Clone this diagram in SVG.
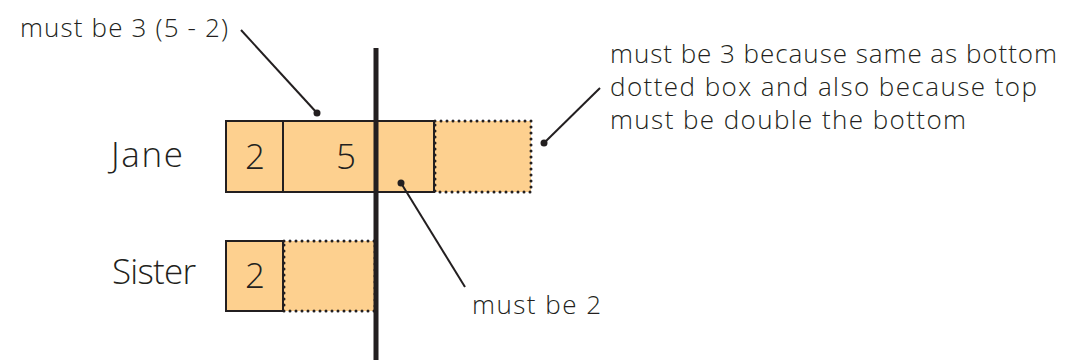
<svg xmlns="http://www.w3.org/2000/svg" width="1075" height="362" viewBox="0 0 1075 362">
<style>
.t{font-family:"Open Sans","Noto Sans","Liberation Sans",sans-serif;fill:#231f20;font-weight:300}
.lbl{font-size:26px}
.name{font-size:35px}
.num{font-size:35px;text-anchor:middle}
.box{fill:#fdd08f;stroke:#231f20;stroke-width:2}
.dot{fill:#fdd08f;stroke:#231f20;stroke-width:3;stroke-dasharray:0 6;stroke-linecap:round}
.lead{stroke:#231f20;stroke-width:2;fill:none}
</style>
<rect width="1075" height="362" fill="#fff"/>
<g id="jane">
<text class="t name" x="111" y="167" textLength="72" lengthAdjust="spacing">Jane</text>
<rect class="box" x="226" y="121" width="57" height="71"/>
<text class="t num" x="255" y="169">2</text>
<rect class="box" x="283" y="121" width="93" height="71"/>
<text class="t num" x="346" y="169">5</text>
<rect class="box" x="376" y="121" width="58" height="71"/>
<rect class="dot" x="435" y="121" width="96" height="71"/>
</g>
<g id="sister">
<text class="t name" x="112" y="284" textLength="84" lengthAdjust="spacing">Sister</text>
<rect class="box" x="226" y="241" width="57" height="70"/>
<text class="t num" x="255" y="288">2</text>
<rect class="dot" x="284" y="241" width="91" height="70"/>
</g>
<g id="divider">
<line x1="376" y1="48" x2="376" y2="360" stroke="#231f20" stroke-width="5"/>
</g>
<g id="connectors">
<line class="lead" x1="241" y1="30" x2="317" y2="113"/>
<circle cx="317" cy="113" r="3.5" fill="#231f20"/>
<line class="lead" x1="600" y1="88" x2="544" y2="143"/>
<circle cx="544" cy="143" r="3.5" fill="#231f20"/>
<line class="lead" x1="401" y1="183" x2="465" y2="287"/>
<circle cx="401" cy="183" r="3.5" fill="#231f20"/>
</g>
<g id="labels">
<text class="t lbl" x="20" y="37" textLength="208" lengthAdjust="spacing">must be 3 (5 - 2)</text>
<text class="t lbl" x="610" y="63" textLength="447" lengthAdjust="spacing">must be 3 because same as bottom</text>
<text class="t lbl" x="610" y="96" textLength="427" lengthAdjust="spacing">dotted box and also because top</text>
<text class="t lbl" x="610" y="129" textLength="356" lengthAdjust="spacing">must be double the bottom</text>
<text class="t lbl" x="472" y="314" textLength="129" lengthAdjust="spacing">must be 2</text>
</g>
</svg>
